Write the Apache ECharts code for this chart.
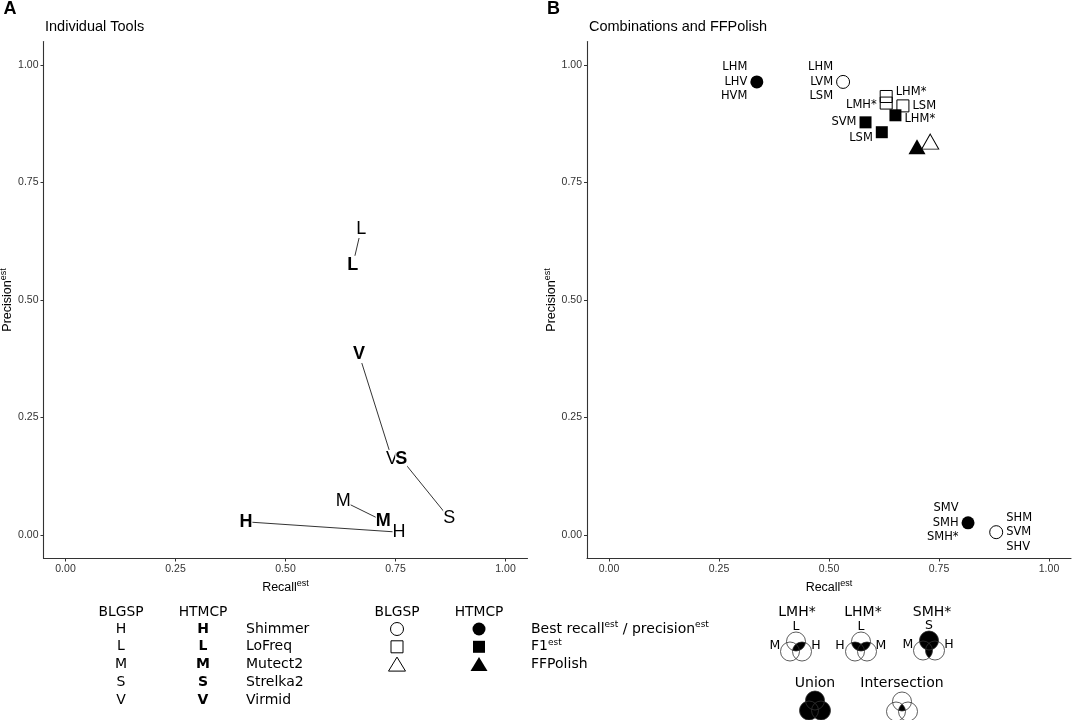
<!DOCTYPE html>
<html>
<head>
<meta charset="utf-8">
<script src="https://cdn.jsdelivr.net/npm/echarts@6/dist/echarts.min.js"></script>
<style>
  html, body { margin: 0; background: #fff; }
  #chart { width: 1072px; height: 720px; }
</style>
</head>
<body>
<div id="chart"></div>
<script>
  // A: single tools, BLGSP (regular letter) vs HTMCP (bold letter)
  var tools = ['H', 'L', 'M', 'S', 'V'];
  var toolNames = ['Shimmer', 'LoFreq', 'Mutect2', 'Strelka2', 'Virmid'];
  var blgspRecall = [0.758, 0.672, 0.631, 0.872, 0.742];
  var blgspPrecision = [0.006, 0.651, 0.072, 0.036, 0.162];
  var htmcpRecall = [0.410, 0.653, 0.722, 0.763, 0.667];
  var htmcpPrecision = [0.028, 0.575, 0.030, 0.162, 0.385];

  // B: combinations and FFPolish
  var bestBlgsp = [[0.532, 0.964], [0.880, 0.006]];
  var bestBlgspTags = ['LHM\nLVM\nLSM', 'SHM\nSVM\nSHV'];
  var bestHtmcp = [[0.336, 0.964], [0.816, 0.026]];
  var bestHtmcpTags = ['LHM\nLHV\nHVM', 'SMV\nSMH\nSMH*'];
  var f1Blgsp = [[0.630, 0.933], [0.630, 0.919], [0.668, 0.913]];
  var f1BlgspTags = ['LHM*', 'LMH*', 'LSM'];
  var f1Htmcp = [[0.651, 0.893], [0.583, 0.878], [0.620, 0.857]];
  var f1HtmcpTags = ['LHM*', 'SVM', 'LSM'];
  var ffBlgsp = [[0.730, 0.837]];
  var ffHtmcp = [[0.700, 0.826]];

  var tickValues = [0, 0.25, 0.5, 0.75, 1];

  // where the tags sit next to the markers
  var bestBlgspSide = ['left', 'right'];
  var bestHtmcpSide = ['left', 'left'];
  var f1BlgspSide = ['right', 'left', 'right'];
  var f1BlgspOff = [[0, -4], [0, 2], [0, 0]];
  var f1HtmcpSide = ['right', 'left', 'left'];
  var f1HtmcpOff = [[0, 4], [0, 0], [0, 6]];

  var HELV = 'Liberation Sans, Arial, sans-serif';
  var VERD = 'DejaVu Sans, Verdana, sans-serif';

  var myChart = echarts.init(document.getElementById('chart'));

  function supRich(size) {
    return {
      a: {fontSize: size, color: '#000', fontFamily: HELV},
      b: {fontSize: 9, color: '#000', fontFamily: HELV, padding: [0, 0, 8, 0]}
    };
  }

  function axisCommon(idx, name, gap) {
    return {
      gridIndex: idx, type: 'value', min: -0.05, max: 1.05,
      name: name, nameLocation: 'middle', nameGap: gap,
      nameTextStyle: {rich: supRich(12.5)},
      axisLine: {onZero: false, lineStyle: {color: '#333', width: 1.1}},
      axisTick: {customValues: tickValues, length: 3, lineStyle: {color: '#333'}},
      axisLabel: {customValues: tickValues, formatter: function (v) { return v.toFixed(2); },
        color: '#333', fontSize: 10.5, margin: 5, fontFamily: HELV},
      splitLine: {show: false}
    };
  }

  var series = [];

  // connecting segments in A
  tools.forEach(function (t, i) {
    series.push({
      type: 'line', xAxisIndex: 0, yAxisIndex: 0, silent: true, z: 1,
      symbol: 'none', lineStyle: {color: '#000', width: 0.8},
      data: [[blgspRecall[i], blgspPrecision[i]], [htmcpRecall[i], htmcpPrecision[i]]]
    });
  });

  function letterSeries(xs, ys, bold) {
    return {
      type: 'scatter', xAxisIndex: 0, yAxisIndex: 0, silent: true, z: 3,
      symbolSize: 1, itemStyle: {color: 'transparent', opacity: 1},
      data: xs.map(function (x, i) { return [x, ys[i]]; }),
      label: {
        show: true, position: 'inside',
        formatter: function (p) { return tools[p.dataIndex]; },
        fontSize: 18, fontFamily: HELV, fontWeight: bold ? 'bold' : 'normal',
        color: '#000', backgroundColor: '#fff', padding: [0, 0]
      }
    };
  }
  series.push(letterSeries(blgspRecall, blgspPrecision, false));
  series.push(letterSeries(htmcpRecall, htmcpPrecision, true));

  function markSeries(pts, tags, sides, offs, symbol, size, filled) {
    return {
      type: 'scatter', xAxisIndex: 1, yAxisIndex: 1, silent: true, z: filled ? 4 : 3,
      symbol: symbol, symbolSize: size,
      itemStyle: filled ? {color: '#000', opacity: 1}
        : {color: 'transparent', borderColor: '#000', borderWidth: 1, opacity: 1},
      data: pts.map(function (p, i) {
        var item = {value: p};
        if (tags && tags[i]) {
          item.label = {show: true, formatter: tags[i], position: sides[i],
            offset: offs ? offs[i] : [0, 0]};
        }
        return item;
      }),
      label: {show: false, distance: 3, fontSize: 11.5, lineHeight: 14.5, fontFamily: VERD, color: '#000'}
    };
  }
  series.push(markSeries(bestBlgsp, bestBlgspTags, bestBlgspSide, null, 'circle', 13, false));
  series.push(markSeries(bestHtmcp, bestHtmcpTags, bestHtmcpSide, null, 'circle', 13, true));
  series.push(markSeries(f1Blgsp, f1BlgspTags, f1BlgspSide, f1BlgspOff, 'rect', 12, false));
  series.push(markSeries(f1Htmcp, f1HtmcpTags, f1HtmcpSide, f1HtmcpOff, 'rect', 12, true));
  series.push(markSeries(ffHtmcp, null, null, null, 'triangle', [17, 15], true));
  series.push(markSeries(ffBlgsp, null, null, null, 'triangle', [17, 15], false));

  // ---- legend and panel headings (graphic) ----
  var g = [];
  function txt(x, y, text, size, opts) {
    opts = opts || {};
    g.push({
      type: 'text', x: x, y: y, silent: true,
      style: {
        text: text, fontSize: size, fontFamily: opts.family || VERD,
        fontWeight: opts.bold ? 'bold' : 'normal', fill: '#000',
        align: opts.align || 'center', verticalAlign: 'middle', rich: opts.rich
      }
    });
  }

  txt(10, 9, 'A', 18, {bold: true, family: HELV});
  txt(45, 27, 'Individual Tools', 14.5, {align: 'left', family: HELV});
  txt(553.5, 9, 'B', 18, {bold: true, family: HELV});
  txt(589, 27, 'Combinations and FFPolish', 14.5, {align: 'left', family: HELV});

  // tool letters legend
  var rowGap = 17.8;
  txt(121, 612, 'BLGSP', 13.8);
  txt(203, 612, 'HTMCP', 13.8);
  tools.forEach(function (t, i) {
    var y = 629 + i * rowGap;
    txt(121, y, t, 14);
    txt(203, y, t, 14, {bold: true});
    txt(246, y, toolNames[i], 14, {align: 'left'});
  });

  // marker legend
  txt(397, 612, 'BLGSP', 13.8);
  txt(479, 612, 'HTMCP', 13.8);
  var supStyle = {s: {fontSize: 9, fontFamily: VERD, padding: [0, 0, 8, 0]}};
  txt(531, 629, 'Best recall{s|est} / precision{s|est}', 14, {align: 'left', rich: supStyle});
  txt(531, 629 + rowGap, 'F1{s|est}', 14, {align: 'left', rich: supStyle});
  txt(531, 629 + 2 * rowGap, 'FFPolish', 14, {align: 'left'});
  [[397, false], [479, true]].forEach(function (col) {
    var x = col[0];
    var st = col[1] ? {fill: '#000'} : {fill: '#fff', stroke: '#000', lineWidth: 1};
    var y2 = 629 + rowGap, y3 = 629 + 2 * rowGap;
    g.push({type: 'circle', silent: true, shape: {cx: x, cy: 629, r: 6.5}, style: st});
    g.push({type: 'rect', silent: true, shape: {x: x - 6, y: y2 - 6, width: 12, height: 12}, style: st});
    g.push({type: 'polygon', silent: true,
      shape: {points: [[x, y3 - 7.5], [x - 8.5, y3 + 6.5], [x + 8.5, y3 + 6.5]]}, style: st});
  });

  // venn glyphs
  var VR = 9.5;
  function region(cs) {
    var pts = [];
    cs.forEach(function (c) {
      for (var i = 0; i < 360; i++) {
        var a = i * Math.PI / 180;
        var p = [c[0] + VR * Math.cos(a), c[1] + VR * Math.sin(a)];
        var ok = cs.every(function (o) { return Math.hypot(p[0] - o[0], p[1] - o[1]) <= VR + 0.001; });
        if (ok) pts.push(p);
      }
    });
    var mx = 0, my = 0;
    pts.forEach(function (p) { mx += p[0]; my += p[1]; });
    mx /= pts.length; my /= pts.length;
    pts.sort(function (p, q) { return Math.atan2(p[1] - my, p[0] - mx) - Math.atan2(q[1] - my, q[0] - mx); });
    return pts;
  }
  function venn(cx, cy, fills, letters) {
    var c = {T: [cx, cy - 5.5], L: [cx - 6, cy + 4.5], R: [cx + 6, cy + 4.5]};
    fills.forEach(function (f) {
      g.push({type: 'polygon', silent: true,
        shape: {points: region(f.split('').map(function (k) { return c[k]; }))},
        style: {fill: '#000'}});
    });
    ['T', 'L', 'R'].forEach(function (k) {
      g.push({type: 'circle', silent: true, shape: {cx: c[k][0], cy: c[k][1], r: VR},
        style: {fill: 'none', stroke: '#333', lineWidth: 0.8}});
    });
    if (letters) {
      txt(cx, cy - 20, letters[0], 12.5);
      txt(cx - 21, cy - 1, letters[1], 12.5);
      txt(cx + 20, cy - 1, letters[2], 12.5);
    }
  }
  txt(797, 612, 'LMH*', 14);
  txt(863, 612, 'LHM*', 14);
  txt(932, 612, 'SMH*', 14);
  venn(796, 647, ['TR'], ['L', 'M', 'H']);
  venn(861, 647, ['TR', 'TL'], ['L', 'H', 'M']);
  venn(929, 646, ['T', 'LR'], ['S', 'M', 'H']);
  txt(815, 683, 'Union', 14);
  txt(902, 683, 'Intersection', 14);
  venn(815, 706, ['T', 'L', 'R'], null);
  venn(902, 707, ['TLR'], null);

  var option = {
    backgroundColor: '#fff',
    animation: false,
    grid: [
      {left: 43.5, top: 41.5, width: 484, height: 517, outerBoundsMode: 'none', containLabel: false},
      {left: 587, top: 41.5, width: 484, height: 517, outerBoundsMode: 'none', containLabel: false}
    ],
    xAxis: [axisCommon(0, '{a|Recall}{b|est}', 20), axisCommon(1, '{a|Recall}{b|est}', 20)],
    yAxis: [axisCommon(0, '{a|Precision}{b|est}', 25), axisCommon(1, '{a|Precision}{b|est}', 25)],
    series: series,
    graphic: {elements: g}
  };
  myChart.setOption(option);
</script>
</body>
</html>
